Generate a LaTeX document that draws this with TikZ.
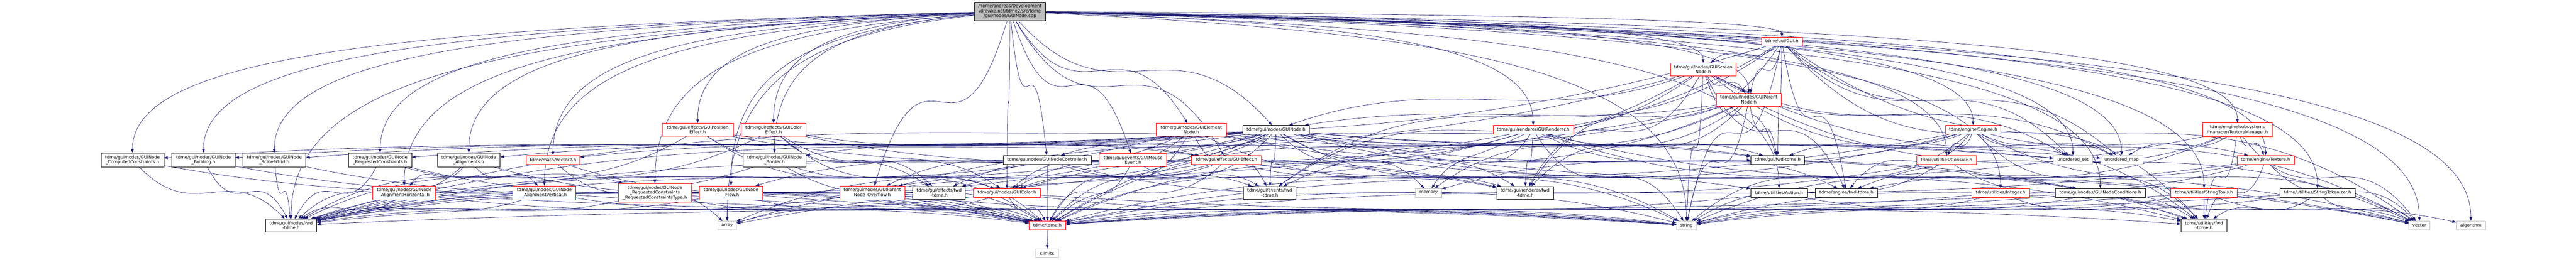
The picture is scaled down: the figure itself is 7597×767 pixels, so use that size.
\documentclass[tikz,border=0pt]{standalone}
\usepackage{fontspec}
\setmainfont{DejaVu Sans}
\usetikzlibrary{arrows.meta,backgrounds,calc}
\definecolor{edgeblue}{HTML}{191970}
\definecolor{sysgray}{HTML}{BFBFBF}
\tikzset{
  hdr/.style={rectangle,draw,fill=white,line width=0.1pt,align=center,
    inner xsep=0.3pt,inner ysep=0.68pt,minimum height=2.6pt,
    font=\fontsize{1.28pt}{1.45pt}\selectfont},
  redhdr/.style={hdr,draw=red,minimum width=#1*0.1pt},
  blkhdr/.style={hdr,draw=black,minimum width=#1*0.1pt},
  syshdr/.style={hdr,draw=sysgray,minimum width=#1*0.1pt},
  roothdr/.style={hdr,draw=black,fill=sysgray,minimum width=#1*0.1pt},
  dotcurve/.style={to path={.. controls ($(\tikztostart|-\tikztotarget)!0.4!(\tikztotarget)$)
      and ($(\tikztostart)!0.6!(\tikztostart-|\tikztotarget)$) .. (\tikztotarget) \tikztonodes}},
  lcurve/.style={to path={.. controls ($(\tikztostart)!0.7!($(\tikztostart-|\tikztotarget)!0.15!(\tikztotarget)$)$)
      and ($(\tikztotarget)!0.7!(\tikztostart-|\tikztotarget)$) .. (\tikztotarget) \tikztonodes}},
  inc/.style={-{Triangle[length=1.1pt,width=0.8pt]},color=edgeblue,line width=0.1pt,dotcurve}
}

\begin{document}
\begin{tikzpicture}[x=0.1pt,y=-0.1pt]
\useasboundingbox (0,0) rectangle (7597,767);

\node[roothdr=211] (root) at (2978.5,33.5) {/home/andreas/Development\\/drewke.net/tdme2/src/tdme\\/gui/nodes/GUINode.cpp};
\node[redhdr=120] (gui) at (5255,122.5) {tdme/gui/GUI.h};
\node[redhdr=194] (screen) at (5023,205) {tdme/gui/nodes/GUIScreen\\Node.h};
\node[redhdr=191] (parent) at (5157.5,294) {tdme/gui/nodes/GUIParent\\Node.h};

\node[redhdr=209] (poseff) at (2057.5,383) {tdme/gui/effects/GUIPosition\\Effect.h};
\node[redhdr=191] (coleff) at (2281.5,383) {tdme/gui/effects/GUIColor\\Effect.h};
\node[redhdr=207] (elem) at (3513.5,383) {tdme/gui/nodes/GUIElement\\Node.h};
\node[blkhdr=197] (node) at (3763.5,383) {tdme/gui/nodes/GUINode.h};
\node[redhdr=237] (renderer) at (4521.5,383) {tdme/gui/renderer/GUIRenderer.h};
\node[redhdr=164] (engine) at (5819,383) {tdme/engine/Engine.h};
\node[redhdr=205] (texmgr) at (6598.5,383) {tdme/engine/subsystems\\/manager/TextureManager.h};

\node[blkhdr=185] (cc) at (390.5,472) {tdme/gui/nodes/GUINode\\\_ComputedConstraints.h};
\node[blkhdr=186] (pad) at (600,472) {tdme/gui/nodes/GUINode\\\_Padding.h};
\node[blkhdr=186] (s9g) at (809,472) {tdme/gui/nodes/GUINode\\\_Scale9Grid.h};
\node[blkhdr=186] (rc) at (1121,472) {tdme/gui/nodes/GUINode\\\_RequestedConstraints.h};
\node[blkhdr=185] (aligns) at (1382.5,472) {tdme/gui/nodes/GUINode\\\_Alignments.h};
\node[redhdr=158] (vec2) at (1631,472) {tdme/math/Vector2.h};
\node[blkhdr=186] (border) at (2284,472) {tdme/gui/nodes/GUINode\\\_Border.h};
\node[blkhdr=260] (ctrl) at (3088,472) {tdme/gui/nodes/GUINodeController.h};
\node[redhdr=199] (mouse) at (3341.5,472) {tdme/gui/events/GUIMouse\\Event.h};
\node[redhdr=206] (effect) at (3617,472) {tdme/gui/effects/GUIEffect.h};
\node[blkhdr=159] (guifwd) at (5242.5,472) {tdme/gui/fwd-tdme.h};
\node[redhdr=177] (console) at (5740.5,472) {tdme/utilities/Console.h};
\node[syshdr=115] (uset) at (6113.5,472) {unordered\_set};
\node[syshdr=124] (umap) at (6257,472) {unordered\_map};
\node[redhdr=169] (texture) at (6681.5,472) {tdme/engine/Texture.h};

\node[redhdr=186] (ahor) at (1192,569) {tdme/gui/nodes/GUINode\\\_AlignmentHorizontal.h};
\node[redhdr=185] (aver) at (1605.5,569) {tdme/gui/nodes/GUINode\\\_AlignmentVertical.h};
\node[redhdr=215] (rctype) at (1931.5,569) {tdme/gui/nodes/GUINode\\\_RequestedConstraints\\\_RequestedConstraintsType.h};
\node[redhdr=186] (flow) at (2156,569) {tdme/gui/nodes/GUINode\\\_Flow.h};
\node[redhdr=191] (ovf) at (2572.5,569) {tdme/gui/nodes/GUIParent\\Node\_Overflow.h};
\node[blkhdr=155] (efffwd) at (2769.5,569) {tdme/gui/effects/fwd\\-tdme.h};
\node[redhdr=197] (color) at (2969.5,569) {tdme/gui/nodes/GUIColor.h};
\node[blkhdr=155] (evtfwd) at (3744.5,569) {tdme/gui/events/fwd\\-tdme.h};
\node[syshdr=78] (memory) at (4213,569) {memory};
\node[blkhdr=167] (rendfwd) at (4497.5,569) {tdme/gui/renderer/fwd\\-tdme.h};
\node[blkhdr=167] (action) at (5246.5,569) {tdme/utilities/Action.h};
\node[blkhdr=183] (engfwd) at (5445.5,569) {tdme/engine/fwd-tdme.h};
\node[redhdr=170] (integer) at (5900,569) {tdme/utilities/Integer.h};
\node[blkhdr=266] (cond) at (6194,569) {tdme/gui/nodes/GUINodeConditions.h};
\node[redhdr=196] (strtools) at (6500,569) {tdme/utilities/StringTools.h};
\node[blkhdr=221] (strtok) at (6834.5,569) {tdme/utilities/StringTokenizer.h};

\node[blkhdr=151] (nodesfwd) at (858.5,665.5) {tdme/gui/nodes/fwd\\-tdme.h};
\node[syshdr=55] (array) at (2144.5,665.5) {array};
\node[redhdr=108] (tdme) at (3089,665.5) {tdme/tdme.h};
\node[syshdr=59] (string) at (4973.5,665.5) {string};
\node[blkhdr=136] (utilfwd) at (6500,665.5) {tdme/utilities/fwd\\-tdme.h};
\node[syshdr=62] (vector) at (7135,665.5) {vector};
\node[syshdr=86] (algorithm) at (7287,665.5) {algorithm};
\node[syshdr=66] (climits) at (3088,747.5) {climits};

\begin{pgfonlayer}{background}
\path[inc,lcurve] (root) edge (gui) edge (screen) edge (parent) edge (poseff) edge (coleff) edge (renderer) edge (engine) edge (texmgr) edge (cc) edge (pad) edge (s9g) edge (rc) edge (aligns) edge (vec2) edge (border) edge (console) edge (texture) edge (ahor) edge (aver) edge (rctype) edge (flow) edge (action) edge (integer) edge (cond) edge (strtools) edge (strtok) edge (string) edge (vector) edge (algorithm) edge (array) edge (uset) edge (umap) edge (nodesfwd);
\path[inc] (root) edge (node) edge (elem) edge (effect) edge (mouse) edge (ctrl) edge (color) edge (ovf);
\path[inc] (gui) edge (screen) edge (parent) edge (guifwd) edge (tdme) edge (string) edge (vector) edge (uset) edge (umap) edge (nodesfwd) edge (engfwd) edge (evtfwd) edge (rendfwd) edge (utilfwd);
\path[inc] (screen) edge (parent) edge (node) edge (guifwd) edge (nodesfwd) edge (evtfwd) edge (rendfwd) edge (utilfwd) edge (engfwd) edge (tdme) edge (string) edge (vector) edge (uset) edge (umap);
\path[inc] (parent) edge (node) edge (ovf) edge (guifwd) edge (nodesfwd) edge (rendfwd) edge (evtfwd) edge (tdme) edge (string) edge (vector) edge (memory);
\path[inc] (node) edge (cc) edge (pad) edge (s9g) edge (rc) edge (aligns) edge (vec2) edge (border) edge (flow) edge (color) edge (cond) edge (guifwd) edge (efffwd) edge (evtfwd) edge (nodesfwd) edge (rendfwd) edge (utilfwd) edge (tdme) edge (array) edge (string) edge (vector) edge (uset) edge (umap) edge (memory) edge (ctrl);
\path[inc] (elem) edge (cond) edge (color) edge (guifwd) edge (nodesfwd) edge (evtfwd) edge (tdme) edge (string) edge (ovf) edge (vector) edge (uset);
\path[inc] (poseff) edge (effect) edge (efffwd) edge (rendfwd) edge (nodesfwd) edge (tdme);
\path[inc] (coleff) edge (effect) edge (color) edge (efffwd) edge (rendfwd) edge (tdme) edge (nodesfwd);
\path[inc] (effect) edge (color) edge (efffwd) edge (rendfwd) edge (nodesfwd) edge (tdme) edge (action) edge (guifwd);
\path[inc] (renderer) edge (rendfwd) edge (memory) edge (array) edge (string) edge (vector) edge (engfwd) edge (guifwd) edge (nodesfwd) edge (color) edge (tdme) edge (utilfwd);
\path[inc] (engine) edge (console) edge (engfwd) edge (guifwd) edge (utilfwd) edge (string) edge (vector) edge (memory) edge (uset) edge (umap) edge (array) edge (tdme) edge (texture);
\path[inc] (texmgr) edge (texture) edge (umap) edge (string) edge (engfwd) edge (utilfwd) edge (tdme) edge (vector);
\path[inc] (texture) edge (engfwd) edge (string) edge (utilfwd) edge (tdme) edge (vector);
\path[inc] (cc) edge (nodesfwd) edge (tdme);
\path[inc] (pad) edge (nodesfwd) edge (tdme);
\path[inc] (s9g) edge (nodesfwd) edge (tdme);
\path[inc] (rc) edge (nodesfwd) edge (tdme) edge (rctype);
\path[inc] (aligns) edge (ahor) edge (aver) edge (nodesfwd) edge (tdme);
\path[inc] (vec2) edge (array) edge (tdme);
\path[inc] (border) edge (color) edge (nodesfwd) edge (tdme);
\path[inc] (ctrl) edge (nodesfwd) edge (evtfwd) edge (tdme) edge (string);
\path[inc] (mouse) edge (evtfwd) edge (tdme) edge (nodesfwd);
\path[inc] (console) edge (string) edge (tdme) edge (utilfwd);
\path[inc] (ahor) edge (nodesfwd) edge (tdme) edge (string);
\path[inc] (aver) edge (nodesfwd) edge (tdme) edge (string);
\path[inc] (rctype) edge (nodesfwd) edge (tdme) edge (string);
\path[inc] (flow) edge (nodesfwd) edge (tdme) edge (string);
\path[inc] (ovf) edge (nodesfwd) edge (tdme) edge (string);
\path[inc] (color) edge (array) edge (tdme) edge (string) edge (nodesfwd) edge (utilfwd);
\path[inc] (action) edge (tdme) edge (utilfwd);
\path[inc] (integer) edge (string) edge (tdme) edge (utilfwd);
\path[inc] (cond) edge (string) edge (vector) edge (tdme) edge (nodesfwd) edge (algorithm);
\path[inc] (strtools) edge (utilfwd) edge (string) edge (vector) edge (tdme);
\path[inc] (strtok) edge (utilfwd) edge (string) edge (vector) edge (tdme);
\path[inc] (tdme) edge (climits);
\end{pgfonlayer}
\end{tikzpicture}
\end{document}
